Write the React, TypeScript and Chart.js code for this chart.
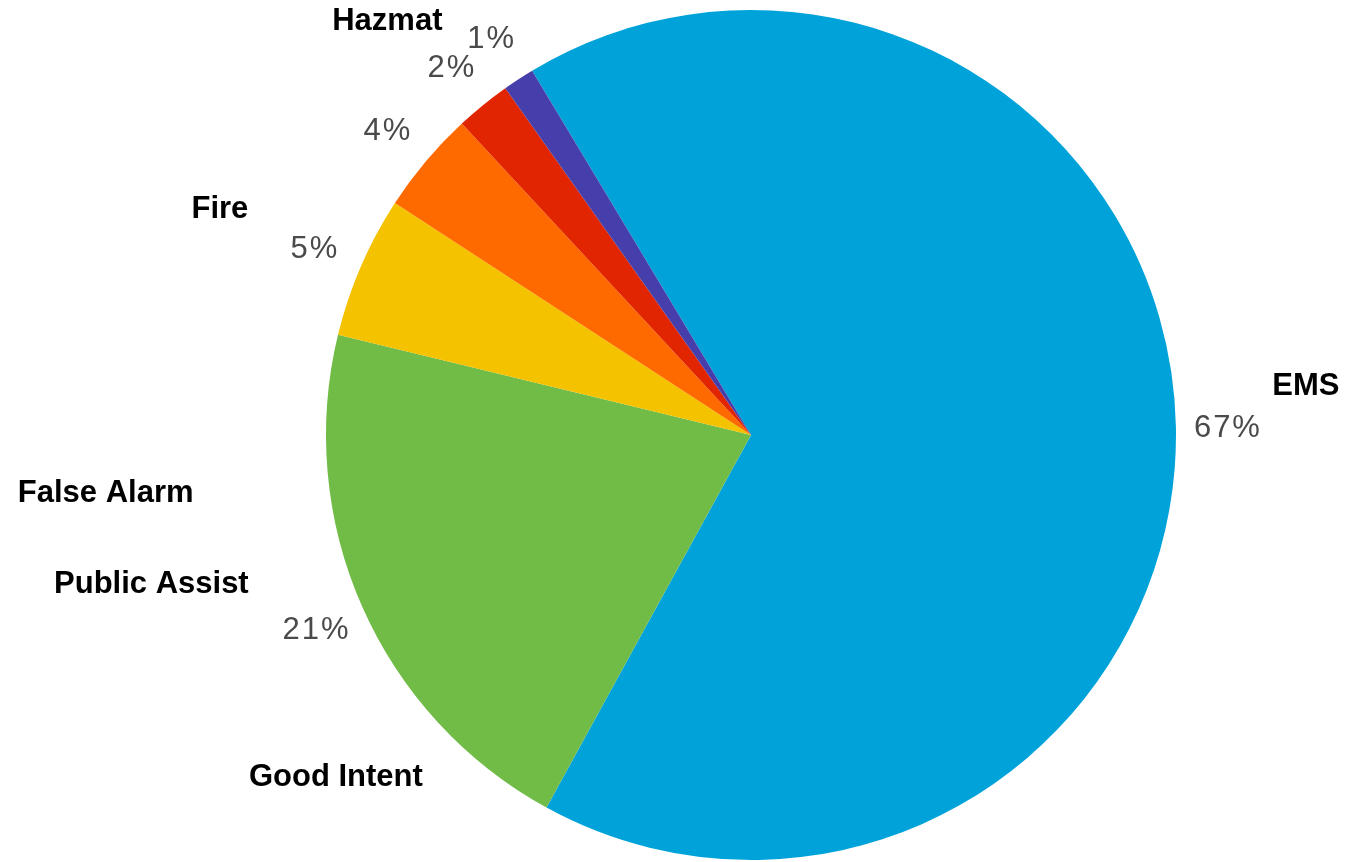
import React, { useEffect, useRef } from "react";
import { Chart, registerables } from "chart.js";

Chart.register(...registerables);

const categories = ["EMS", "Good Intent", "Public Assist", "False Alarm", "Fire", "Hazmat"];
const shares = [66.6, 20.8, 5.4, 3.9, 2.1, 1.2];
const sliceColors = ["#00A3D9", "#70BC47", "#F5C200", "#FF6A00", "#E12500", "#463EAA"];

// name label placement: angle clockwise from top (deg), distance beyond the outer radius (px)
const nameAnchors = [
  { angle: 85, dist: 132 },
  { angle: 230.5, dist: 113 },
  { angle: 256, dist: 193 },
  { angle: 264.8, dist: 223 },
  { angle: 293, dist: 152 },
  { angle: 318.7, dist: 126 },
];

const labelPlugin = {
  id: "pieLabels",
  afterDatasetsDraw(chart: any) {
    const ctx = chart.ctx;
    const meta = chart.getDatasetMeta(0);
    const data = chart.data.datasets[0].data as number[];
    const total = data.reduce((a, b) => a + b, 0);
    const names = chart.data.labels as string[];
    ctx.save();
    meta.data.forEach((arc: any, i: number) => {
      const { x, y, startAngle, endAngle, outerRadius } = arc.getProps(
        ["x", "y", "startAngle", "endAngle", "outerRadius"],
        true
      );
      const mid = (startAngle + endAngle) / 2;
      const r = outerRadius + 51;
      ctx.font = '31px "Liberation Sans", Arial, sans-serif';
      ctx.fillStyle = "#4a4a4a";
      ctx.textAlign = "center";
      ctx.textBaseline = "middle";
      try { (ctx as any).letterSpacing = "2px"; } catch (e) {}
      ctx.fillText(Math.round((data[i] / total) * 100) + "%", x + Math.cos(mid) * r + 1, y + Math.sin(mid) * r + 3);
      try { (ctx as any).letterSpacing = "0px"; } catch (e) {}

      const a = nameAnchors[i];
      if (a) {
        const ang = ((a.angle - 90) * Math.PI) / 180;
        const rr = outerRadius + a.dist;
        ctx.font = 'bold 31px "Liberation Sans", Arial, sans-serif';
        ctx.fillStyle = "#000000";
        ctx.fillText(names[i], x + Math.cos(ang) * rr, y + Math.sin(ang) * rr);
      }
    });
    ctx.restore();
  },
};

export default function App() {
  const ref = useRef<HTMLCanvasElement | null>(null);
  useEffect(() => {
    document.body.style.margin = "0";
    document.body.style.overflow = "hidden";
    if (!ref.current) return;
    const chart = new Chart(ref.current, {
      type: "pie",
      data: {
        labels: categories,
        datasets: [
          {
            data: shares,
            backgroundColor: sliceColors,
            borderWidth: 0,
          },
        ],
      },
      options: {
        responsive: false,
        animation: false,
        rotation: -31,
        layout: { padding: { top: 10, bottom: 2, left: 148, right: 0 } },
        plugins: {
          legend: { display: false },
          tooltip: { enabled: false },
        },
      },
      plugins: [labelPlugin],
    });
    return () => chart.destroy();
  }, []);
  return (
    <div style={{ width: 1354, height: 862, background: "#fff" }}>
      <canvas ref={ref} width={1354} height={862} style={{ display: "block" }} />
    </div>
  );
}
